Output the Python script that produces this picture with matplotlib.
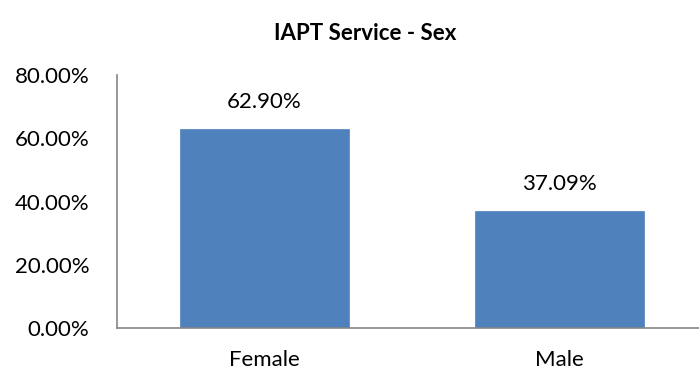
import matplotlib
matplotlib.use("Agg")
import matplotlib.pyplot as plt
from matplotlib.ticker import FuncFormatter

categories = ["Female", "Male"]
values = [0.6290, 0.3709]
y_ticks = [0.0, 0.2, 0.4, 0.6, 0.8]

plt.rcParams['font.family'] = ['Lato', 'DejaVu Sans']

W, H = 699, 373
fig = plt.figure(figsize=(W / 100, H / 100), dpi=100)
# axes box in pixel terms: left 117, bottom 328, top 75, category width 295
left, bottom, top, cat_w = 117, 328, 75, 295
ax = fig.add_axes([left / W, (H - bottom) / H, 2 * cat_w / W, (bottom - top) / H])

x = list(range(len(categories)))
ax.bar(x, values, width=0.57, color="#4F81BD", edgecolor="#4F81BD", linewidth=0.5, zorder=2)
for xi, v in zip(x, values):
    ax.annotate(f"{v * 100:.2f}%", (xi, v), xytext=(0, 12), textcoords="offset points",
                ha="center", va="bottom", fontsize=16, color="#000000")

ax.set_xlim(-0.5, 1.5)
ax.set_ylim(0, 0.8)
ax.set_yticks(y_ticks)
ax.yaxis.set_major_formatter(FuncFormatter(lambda v, p: f"{v * 100:.2f}%"))
ax.set_xticks(x)
ax.set_xticklabels(categories)
ax.tick_params(axis="both", length=0, labelsize=16, colors="#000000")
ax.tick_params(axis="y", pad=20)
ax.tick_params(axis="x", pad=16)

for side in ("top", "right"):
    ax.spines[side].set_visible(False)
for side in ("left", "bottom"):
    ax.spines[side].set_color("#868686")
    ax.spines[side].set_linewidth(1.2)

fig.text(365 / W, 1 - 34 / H, "IAPT Service - Sex", ha="center", va="center",
         fontsize=16, fontweight="bold")

fig.savefig("out.png", dpi=100)
